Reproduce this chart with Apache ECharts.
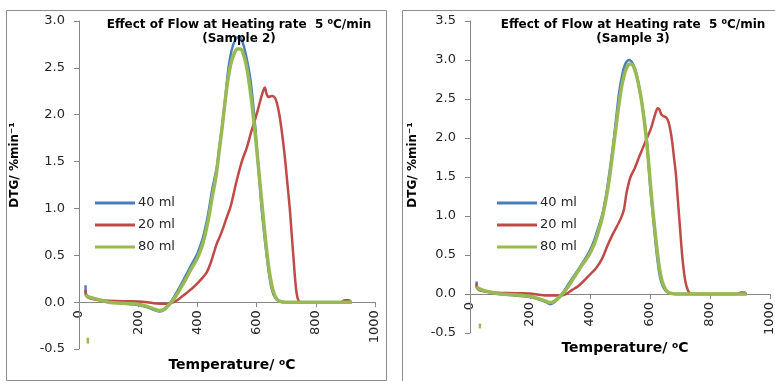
<!DOCTYPE html>
<html>
<head>
<meta charset="utf-8">
<script src="https://cdn.jsdelivr.net/npm/echarts@6/dist/echarts.min.js"></script>
<style>
  html, body { margin: 0; padding: 0; background: #fff; }
  #chart { width: 775px; height: 381px; }
</style>
</head>
<body>
<div id="chart"></div>
<script>
// DTG curves (temperature in °C, DTG in %/min) for three gas flow rates
const flowNames = ['40 ml', '20 ml', '80 ml'];
const xTicks = [0, 200, 400, 600, 800, 1000];

// Sample 2
const s2Flow40 = [[22,0.18],[23,0.1],[28,0.07],[40,0.05],[60,0.03],[80,0.015],[100,0.0],[150,-0.015],[200,-0.03],[230,-0.055],[255,-0.085],[272,-0.1],[288,-0.08],[305,-0.02],[320,0.05],[340,0.16],[360,0.28],[380,0.4],[400,0.52],[418,0.68],[435,0.92],[450,1.2],[466,1.45],[476,1.7],[486,1.94],[495,2.2],[503,2.45],[515,2.68],[528,2.8],[540,2.83],[552,2.78],[565,2.62],[578,2.4],[588,2.12],[596,1.85],[602,1.6],[607,1.4],[612,1.2],[617,1.0],[625,0.75],[634,0.5],[643,0.28],[652,0.13],[662,0.05],[675,0.01],[690,0.0],[760,0.0],[850,0.0],[922,0.0]];
const s2Flow20 = [[22,0.13],[23,0.08],[30,0.05],[50,0.03],[75,0.02],[100,0.015],[150,0.01],[200,0.008],[230,0.0],[260,-0.015],[300,-0.018],[320,0.0],[340,0.04],[360,0.09],[380,0.14],[400,0.2],[420,0.27],[432,0.32],[445,0.42],[455,0.52],[466,0.63],[476,0.7],[490,0.82],[502,0.93],[512,1.02],[522,1.15],[533,1.3],[550,1.5],[567,1.65],[582,1.82],[595,1.95],[605,2.06],[615,2.18],[624,2.27],[628,2.29],[633,2.23],[640,2.19],[652,2.2],[662,2.18],[669,2.12],[677,2.0],[684,1.85],[690,1.7],[697,1.5],[703,1.3],[712,1.0],[718,0.75],[724,0.5],[730,0.25],[735,0.1],[741,0.02],[750,0.0],[800,0.0],[885,0.0],[898,0.02],[912,0.02],[918,0.0]];
const s2Flow80 = [[22,0.08],[30,0.06],[50,0.04],[75,0.02],[100,0.0],[150,-0.012],[200,-0.022],[230,-0.045],[255,-0.075],[272,-0.09],[288,-0.075],[305,-0.025],[320,0.03],[340,0.13],[360,0.24],[380,0.36],[400,0.47],[418,0.62],[435,0.85],[450,1.12],[463,1.35],[473,1.6],[483,1.85],[492,2.1],[502,2.35],[512,2.53],[524,2.65],[535,2.7],[545,2.7],[556,2.64],[568,2.48],[580,2.22],[590,1.95],[599,1.68],[606,1.45],[612,1.25],[618,1.05],[625,0.82],[633,0.58],[641,0.37],[650,0.2],[659,0.09],[669,0.03],[682,0.005],[700,0.0],[800,0.0],[922,0.0]];
const s2Flow80Mark = [[30,-0.38],[30,-0.44]];

// Sample 3
const s3Flow40 = [[22,0.16],[23,0.09],[28,0.07],[40,0.05],[60,0.03],[80,0.015],[100,0.0],[150,-0.02],[200,-0.04],[230,-0.07],[252,-0.1],[268,-0.13],[283,-0.1],[298,-0.04],[312,0.03],[330,0.14],[350,0.25],[367,0.35],[385,0.46],[400,0.56],[415,0.7],[430,0.88],[443,1.05],[456,1.32],[467,1.62],[478,1.94],[488,2.28],[497,2.58],[508,2.82],[519,2.96],[531,3.0],[543,2.95],[555,2.82],[565,2.62],[573,2.45],[582,2.2],[590,1.94],[596,1.62],[602,1.32],[608,1.08],[613,0.88],[618,0.68],[623,0.5],[630,0.29],[637,0.16],[645,0.08],[655,0.03],[667,0.008],[680,0.0],[760,0.0],[850,0.0],[922,0.0]];
const s3Flow20 = [[22,0.13],[23,0.08],[30,0.05],[50,0.03],[75,0.02],[100,0.015],[150,0.01],[200,0.005],[230,-0.01],[260,-0.02],[300,-0.02],[320,0.0],[340,0.05],[360,0.1],[380,0.17],[400,0.25],[420,0.33],[440,0.45],[456,0.6],[470,0.72],[490,0.87],[503,0.97],[513,1.08],[522,1.3],[535,1.5],[550,1.62],[562,1.74],[576,1.87],[590,2.0],[603,2.12],[613,2.25],[622,2.36],[627,2.38],[632,2.36],[638,2.3],[645,2.28],[655,2.26],[662,2.2],[668,2.1],[674,1.95],[680,1.75],[686,1.55],[691,1.3],[696,1.05],[701,0.8],[706,0.55],[712,0.32],[719,0.14],[726,0.05],[733,0.01],[745,0.0],[800,0.0],[890,0.0],[903,0.02],[915,0.02],[920,0.0]];
const s3Flow80 = [[22,0.09],[30,0.07],[50,0.04],[75,0.02],[100,0.0],[150,-0.01],[200,-0.03],[230,-0.06],[252,-0.09],[266,-0.11],[280,-0.095],[298,-0.04],[315,0.03],[335,0.14],[355,0.26],[375,0.38],[395,0.49],[412,0.62],[428,0.8],[442,1.0],[455,1.25],[466,1.52],[476,1.82],[486,2.12],[496,2.42],[506,2.67],[517,2.85],[528,2.94],[537,2.95],[548,2.89],[560,2.72],[570,2.52],[580,2.25],[588,1.98],[595,1.7],[601,1.42],[607,1.17],[613,0.94],[619,0.72],[625,0.52],[632,0.32],[640,0.17],[649,0.08],[660,0.025],[675,0.005],[690,0.0],[800,0.0],[922,0.0]];
const s3Flow80Mark = [[33,-0.38],[33,-0.44]];

const colors = { '40 ml': '#4a7ebb', '20 ml': '#be4b48', '80 ml': '#98b954' };
const font = '"DejaVu Sans", Verdana, sans-serif';
const axisGray = '#868686';
const textColor = '#262626';
const yMin = -0.5;

// Each panel is split at the zero line: an upper grid (0..yMax) carrying the
// temperature axis, and a lower strip (yMin..0) that continues the DTG axis.
const panels = [
  { left: 79, top: 21, width: 296, unit: 328 / 3.5, yMax: 3.0 },
  { left: 470, top: 21, width: 300, unit: 78, yMax: 3.5 }
];
const grids = [];
panels.forEach(p => {
  const upperH = p.unit * p.yMax;
  grids.push({ left: p.left, top: p.top, width: p.width, height: upperH });
  grids.push({ left: p.left, top: p.top + upperH, width: p.width, height: p.unit * (0 - yMin) });
});

function xAxisFor(grid, visible) {
  return {
    gridIndex: grid, type: 'value', show: visible, position: 'bottom',
    min: xTicks[0], max: xTicks[xTicks.length - 1], interval: 200,
    axisLine: { show: true, onZero: false, lineStyle: { color: axisGray, width: 1 } },
    axisTick: { show: true, length: 5, lineStyle: { color: axisGray } },
    // tick labels are set upright-rotated below, anchored to this axis' ticks
    axisLabel: { show: false },
    splitLine: { show: false }
  };
}
function yAxisFor(grid, min, max, upper) {
  return {
    gridIndex: grid, type: 'value', min: min, max: max, interval: 0.5,
    axisLine: { show: true, onZero: false, lineStyle: { color: axisGray, width: 1 } },
    axisTick: { show: true, length: 5, lineStyle: { color: axisGray } },
    axisLabel: { margin: 14, fontSize: 13, fontFamily: font, color: textColor,
      showMinLabel: true, showMaxLabel: upper, formatter: v => v.toFixed(1) },
    splitLine: { show: false }
  };
}
function lineSeries(name, data, grid, width) {
  return {
    name: name, type: 'line', xAxisIndex: grid, yAxisIndex: grid, data: data,
    showSymbol: false, smooth: 0.35, clip: false,
    lineStyle: { color: colors[name], width: width }, itemStyle: { color: colors[name] },
    emphasis: { disabled: true }, z: 3
  };
}
function legendFor(left, top) {
  return {
    orient: 'vertical', left: left, top: top, icon: 'rect', itemWidth: 40, itemHeight: 3,
    itemGap: 8, selectedMode: false, data: flowNames,
    textStyle: { fontSize: 13, fontFamily: font, color: textColor, lineHeight: 14, padding: [0, 0, 0, -2] }
  };
}
const titleRich = { s: { fontSize: 8, fontWeight: 'bold', fontFamily: font, color: '#000', verticalAlign: 'top', lineHeight: 10, padding: [0, 0, 5, 0] } };
function chartTitle(cx, label) {
  return {
    text: 'Effect of Flow at Heating rate  5 {s|o}C/min\n(' + label + ')',
    left: cx, top: 13, textAlign: 'center',
    textStyle: { fontSize: 12, fontWeight: 'bold', fontFamily: font, color: '#000', lineHeight: 14, rich: titleRich }
  };
}
function axisName(cx, top) {
  return {
    text: 'Temperature/ {s|o}C', left: cx, top: top, textAlign: 'center',
    textStyle: { fontSize: 14, fontWeight: 'bold', fontFamily: font, color: '#000',
      rich: { s: { fontSize: 9, fontWeight: 'bold', fontFamily: font, color: '#000', verticalAlign: 'top', padding: [0, 0, 6, 0] } } }
  };
}
function yName(cx, cy) {
  return {
    type: 'text', x: cx, y: cy, rotation: Math.PI / 2,
    style: { text: 'DTG/ %min⁻¹', font: 'bold 12px ' + font, fill: '#000', align: 'center', verticalAlign: 'middle' }
  };
}

const baseGraphics = [
  { type: 'rect', shape: { x: 6.5, y: 10.5, width: 380, height: 370 }, style: { fill: 'none', stroke: '#8c8c8c', lineWidth: 1 }, silent: true },
  { type: 'rect', shape: { x: 402.5, y: 10.5, width: 400, height: 400 }, style: { fill: 'none', stroke: '#8c8c8c', lineWidth: 1 }, silent: true },
  yName(15, 165),
  yName(413, 165)
];

const chart = echarts.init(document.getElementById('chart'), null, { renderer: 'canvas' });
chart.setOption({
  animation: false,
  backgroundColor: '#fff',
  title: [
    chartTitle(234, 'Sample 2'),
    chartTitle(628, 'Sample 3'),
    axisName(227, 353),
    axisName(620, 336)
  ],
  legend: [legendFor(90, 191), legendFor(492, 191)],
  grid: grids.map(g => Object.assign({ containLabel: false, outerBoundsMode: 'none' }, g)),
  xAxis: [xAxisFor(0, true), xAxisFor(1, false), xAxisFor(2, true), xAxisFor(3, false)],
  yAxis: [
    yAxisFor(0, 0, panels[0].yMax, true), yAxisFor(1, yMin, 0, false),
    yAxisFor(2, 0, panels[1].yMax, true), yAxisFor(3, yMin, 0, false)
  ],
  series: [
    lineSeries('40 ml', s2Flow40, 0, 2.5),
    lineSeries('20 ml', s2Flow20, 0, 2.5),
    lineSeries('80 ml', s2Flow80, 0, 3.5),
    lineSeries('80 ml', s2Flow80Mark, 1, 2.5),
    lineSeries('40 ml', s3Flow40, 2, 2.5),
    lineSeries('20 ml', s3Flow20, 2, 2.5),
    lineSeries('80 ml', s3Flow80, 2, 3.5),
    lineSeries('80 ml', s3Flow80Mark, 3, 2.5)
  ],
  graphic: baseGraphics
});

// Temperature tick labels: rotated to read upward, hung just under the zero line
const tickLabels = [];
[0, 2].forEach(axisIdx => {
  const zeroY = chart.convertToPixel({ yAxisIndex: axisIdx }, 0);
  xTicks.forEach(v => {
    const x = chart.convertToPixel({ xAxisIndex: axisIdx }, v);
    tickLabels.push({
      type: 'text', x: x, y: zeroY + 8, rotation: Math.PI / 2, silent: true,
      style: { text: String(v), font: '13px ' + font, fill: textColor, align: 'right', verticalAlign: 'middle' }
    });
  });
});
chart.setOption({ graphic: baseGraphics.concat(tickLabels) });
</script>
</body>
</html>
